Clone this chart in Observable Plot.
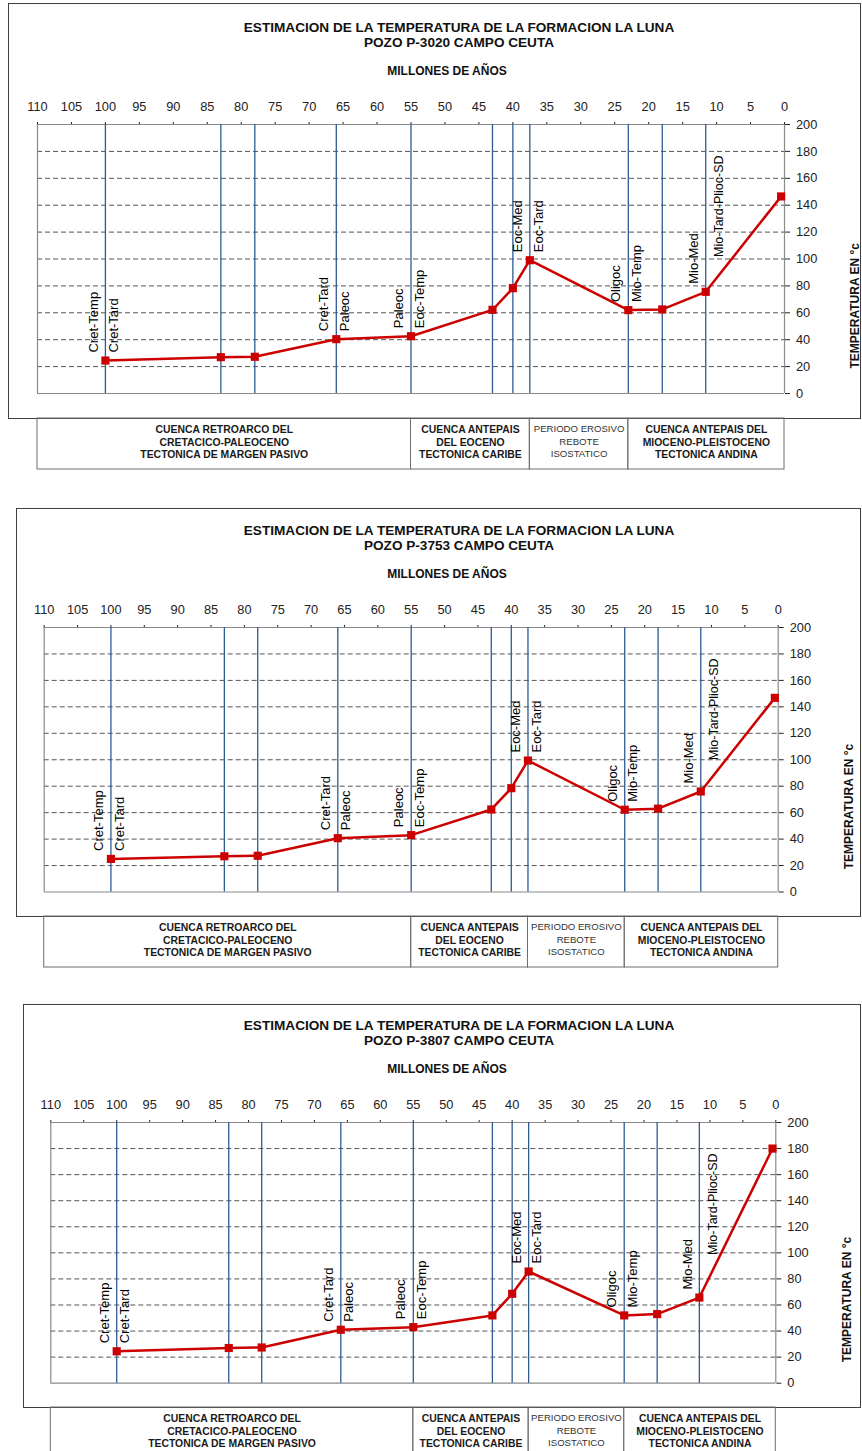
<!DOCTYPE html>
<html>
<head>
<meta charset="utf-8">
<script src="https://cdn.jsdelivr.net/npm/d3@7"></script>
<script src="https://cdn.jsdelivr.net/npm/@observablehq/plot@0.6"></script>
<style>
  body { margin: 0; background: #fff; font-family: "Liberation Sans", Arial, sans-serif; }
  #page { position: relative; width: 862px; height: 1451px; overflow: hidden; background: #fff; }
  .frame { position: absolute; border: 1.5px solid #404040; box-sizing: border-box; }
  .title { position: absolute; transform: translate(-50%, -50%); white-space: nowrap; font-weight: bold; color: #111; line-height: 1; }
</style>
</head>
<body>
<div id="page"></div>
<script>
// Ages (millions of years) of the estimated temperature points, oldest first
const ages = [100, 83, 78, 66, 55, 43, 40, 37.5, 23, 18, 11.6, 0.5];

// Estimated temperature (°C) of the La Luna formation at each age, one list per well
const tempP3020 = [24.5, 27, 27.3, 40.4, 42.6, 62.2, 78.3, 99.1, 62, 62.5, 75.6, 146.5];
const tempP3753 = [25, 27, 27.4, 40.7, 43, 62.4, 78.5, 99.4, 62.2, 63, 76, 146.8];
const tempP3807 = [24.5, 27, 27.4, 41, 43, 52, 68.6, 85.7, 52, 53, 65.7, 180];

const wells = ["P-3020", "P-3753", "P-3807"];
const wellTemps = [tempP3020, tempP3753, tempP3807];

// Dated events shown as vertical lines
const eventAges = [100, 83, 78, 66, 55, 43, 40, 37.5, 23, 18, 11.6];

// Stage boundaries with the stage before (older) and after (younger) each one
const boundaryAges = [100, 66, 55, 37.5, 23, 11.6];
const olderStages = ["Cret-Temp", "Cret-Tard", "Paleoc", "Eoc-Med", "Oligoc", "Mio-Med"];
const youngerStages = ["Cret-Tard", "Paleoc", "Eoc-Temp", "Eoc-Tard", "Mio-Temp", "Mio-Tard-Plioc-SD"];

// Tectonic settings along the time axis
const eraStart = [110, 55, 37.5, 23];
const eraEnd = [55, 37.5, 23, 0];
const eraLabels = [
  "CUENCA RETROARCO DEL\nCRETACICO-PALEOCENO\nTECTONICA DE MARGEN PASIVO",
  "CUENCA ANTEPAIS\nDEL EOCENO\nTECTONICA CARIBE",
  "PERIODO EROSIVO\nREBOTE\nISOSTATICO",
  "CUENCA ANTEPAIS DEL\nMIOCENO-PLEISTOCENO\nTECTONICA ANDINA"
];

// Axis ticks
const ageTicks = d3.range(110, -1, -5);
const tempTicks = d3.range(0, 201, 20);
const gridTemps = d3.range(20, 200, 20);

const titleText = "ESTIMACION DE LA TEMPERATURA DE LA FORMACION LA LUNA";
const subtitleText = "MILLONES DE AÑOS";
const yLabelText = "TEMPERATURA EN °c";

// Page placement of each well's panel
const layouts = [
  {frameLeft: 8, frameTop: 3, frameBottom: 418, plotLeft: 37, plotRight: 784, plotTop: 124, plotBottom: 393},
  {frameLeft: 16, frameTop: 508, frameBottom: 916, plotLeft: 43.7, plotRight: 777.7, plotTop: 627, plotBottom: 891.5},
  {frameLeft: 22.7, frameTop: 1004, frameBottom: 1407, plotLeft: 50.3, plotRight: 775.3, plotTop: 1122, plotBottom: 1382.7}
];

const W = 862;
const FONT = '"Liberation Sans", Arial, sans-serif';
const page = document.getElementById("page");

const eras = eraStart.map((s, i) => ({start: s, end: eraEnd[i], label: eraLabels[i]}));
const isErosive = (d) => d.label.startsWith("PERIODO");
const liftedStage = "Mio-Tard-Plioc-SD";

function addDiv(cls, css, text) {
  const el = document.createElement("div");
  el.className = cls;
  Object.assign(el.style, css);
  if (text != null) el.textContent = text;
  page.appendChild(el);
  return el;
}

wells.forEach((well, k) => {
  const L = layouts[k];
  const temps = wellTemps[k];
  const points = ages.map((a, i) => ({age: a, temp: temps[i]}));
  const tempAt = (a) => temps[ages.indexOf(a)];
  const bounds = boundaryAges.map((a, i) => ({age: a, temp: tempAt(a), older: olderStages[i], younger: youngerStages[i]}));

  // outer border
  addDiv("frame", {
    left: L.frameLeft + "px", top: L.frameTop + "px",
    width: (861 - L.frameLeft) + "px", height: (L.frameBottom - L.frameTop + 1) + "px"
  });

  // titles
  addDiv("title", {left: "459px", top: (L.plotTop - 96) + "px", fontSize: "13.6px"}, titleText);
  addDiv("title", {left: "459px", top: (L.plotTop - 81) + "px", fontSize: "13.6px"}, `POZO ${well} CAMPO CEUTA`);
  addDiv("title", {left: "447px", top: (L.plotTop - 53) + "px", fontSize: "12px"}, subtitleText);

  const chart = Plot.plot({
    width: W,
    height: L.frameBottom - L.frameTop,
    marginTop: L.plotTop - L.frameTop,
    marginBottom: L.frameBottom - L.plotBottom,
    marginLeft: L.plotLeft,
    marginRight: W - L.plotRight,
    style: {fontFamily: FONT, fontSize: "12.8px", color: "#222", background: "transparent", overflow: "visible"},
    x: {domain: [110, 0], axis: "top", ticks: ageTicks, tickSize: 3, tickPadding: 11, tickFormat: (d) => String(d), label: null},
    y: {domain: [0, 200], axis: "right", ticks: tempTicks, tickSize: 5, tickPadding: 6.5, tickFormat: (d) => String(d), label: null},
    marks: [
      Plot.ruleY(gridTemps, {stroke: "#555", strokeWidth: 1, strokeDasharray: "5,3"}),
      Plot.ruleY([0, 200], {stroke: "#8a8a8a", strokeWidth: 1.2}),
      Plot.ruleX([110, 0], {stroke: "#8a8a8a", strokeWidth: 1.2}),
      Plot.ruleX(eventAges, {stroke: "#2e5a96", strokeWidth: 1.3}),
      Plot.line(points, {x: "age", y: "temp", stroke: "#cc0000", strokeWidth: 2.5}),
      Plot.dot(points, {x: "age", y: "temp", symbol: "square", fill: "#cc0000", r: 4.6}),
      Plot.text(bounds, {x: "age", y: "temp", text: "older", rotate: -90, textAnchor: "start", dx: -12, dy: -8, fontSize: 13, fill: "#000"}),
      Plot.text(bounds.filter((d) => d.younger !== liftedStage), {x: "age", y: "temp", text: "younger", rotate: -90, textAnchor: "start", dx: 8.5, dy: -8, fontSize: 13, fill: "#000"}),
      Plot.text(bounds.filter((d) => d.younger === liftedStage), {x: "age", text: "younger", frameAnchor: "top", rotate: -90, textAnchor: "end", dx: 8.5, dy: 31, fontSize: 12.5, fill: "#000"}),
      Plot.text([yLabelText], {frameAnchor: "right", rotate: -90, dx: 71, dy: -16, fontSize: 12, fontWeight: "bold", fill: "#111"})
    ]
  });
  chart.style.position = "absolute";
  chart.style.left = "0px";
  chart.style.top = L.frameTop + "px";
  page.appendChild(chart);

  // tectonic settings strip under the panel
  const strip = Plot.plot({
    width: W,
    height: 51,
    marginTop: 0,
    marginBottom: 0,
    marginLeft: L.plotLeft,
    marginRight: W - L.plotRight,
    style: {fontFamily: FONT, background: "transparent", overflow: "visible"},
    x: {domain: [110, 0], axis: null},
    marks: [
      Plot.rect(eras, {x1: "start", x2: "end", stroke: "#6f6f6f", strokeWidth: 1, fill: "none"}),
      Plot.text(eras.filter((d) => !isErosive(d)), {x: (d) => (d.start + d.end) / 2, text: "label", frameAnchor: "top", lineAnchor: "top", dy: 5.5, lineHeight: 1.22, fontSize: 10.4, fontWeight: "bold", fill: "#1a1a1a"}),
      Plot.text(eras.filter(isErosive), {x: (d) => (d.start + d.end) / 2, text: "label", frameAnchor: "top", lineAnchor: "top", dy: 5, lineHeight: 1.3, fontSize: 9.6, fill: "#333"})
    ]
  });
  strip.style.position = "absolute";
  strip.style.left = "0px";
  strip.style.top = L.frameBottom + "px";
  page.appendChild(strip);
});
</script>
</body>
</html>
